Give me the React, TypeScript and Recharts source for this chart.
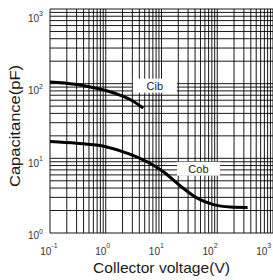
import React from 'react';
import { LineChart, Line, XAxis, YAxis, CartesianGrid, ReferenceDot, Label } from 'recharts';

// Collector-base / emitter-base capacitance vs collector voltage
const cibVoltage = [0.1, 0.28, 0.5, 1, 2, 3, 4.7];
const cibCapacitance = [105, 98, 91, 81, 68, 59, 47];

const cobVoltage = [0.1, 0.3, 1, 2.7, 4.1, 6.2, 10.8, 21.5, 43, 85, 170, 350];
const cobCapacitance = [16.8, 15.9, 14.3, 11.4, 10.0, 8.6, 6.6, 4.3, 2.95, 2.4, 2.23, 2.2];

const xDecades = [0.1, 1, 10, 100, 1000];
const xExponents = ['-1', '0', '1', '2', '3'];
const yDecades = [1, 10, 100, 1000];
const yExponents = ['0', '1', '2', '3'];
const gridMultipliers = [1, 2, 3, 4, 5, 6, 7, 8, 9];

const seriesNames = ['Cib', 'Cob'];
const cibLabelAt = { v: 7.6, c: 94 };
const cobLabelAt = { v: 46, c: 7.26 };

const xTitle = 'Collector voltage(V)';
const yTitle = 'Capacitance(pF)';

const cibData = cibVoltage.map((v, i) => ({ v, c: cibCapacitance[i] }));
const cobData = cobVoltage.map((v, i) => ({ v, c: cobCapacitance[i] }));

const buildTicks = (decades: number[]) => {
  const out: number[] = [];
  decades.forEach((d, i) => {
    if (i === decades.length - 1) {
      out.push(d);
    } else {
      gridMultipliers.forEach((m) => out.push(+(d * m).toPrecision(3)));
    }
  });
  return out;
};
const xGridTicks = buildTicks(xDecades);
const yGridTicks = buildTicks(yDecades);

const FONT = 'Arial, "Liberation Sans", Helvetica, sans-serif';
const PLOT_LEFT = 50;
const PLOT_TOP = 9;
const PLOT_BOTTOM = 233;

const XTick = (props: any) => {
  const { x, payload } = props;
  const i = xDecades.findIndex((d) => Math.abs(d - payload.value) < 1e-9);
  if (i < 0) return <g />;
  const dx = -1 - 0.037 * (x - PLOT_LEFT);
  return (
    <text x={x + dx} y={PLOT_BOTTOM + 21.5} textAnchor="middle" fontFamily={FONT} fontSize={10} fill="#333">
      <tspan>10</tspan>
      <tspan dy={-6.5} fontSize={7}>{xExponents[i]}</tspan>
    </text>
  );
};

const YTick = (props: any) => {
  const { y, payload } = props;
  const i = yDecades.findIndex((d) => Math.abs(d - payload.value) < 1e-9);
  if (i < 0) return <g />;
  const center = y + 9 - 0.028 * (y - PLOT_TOP);
  return (
    <text x={43} y={center + 3.6} textAnchor="end" fontFamily={FONT} fontSize={10} fill="#333">
      <tspan>10</tspan>
      <tspan dy={-5.5} fontSize={7}>{yExponents[i]}</tspan>
    </text>
  );
};

const makeTag = (text: string, w: number) => (props: any) => {
  const { cx, cy } = props;
  return (
    <g>
      <rect x={cx - w / 2} y={cy - 7} width={w} height={14} fill="#fff" />
      <text x={cx} y={cy + 4} textAnchor="middle" fontFamily={FONT} fontSize={11} fill="#222">
        {text}
      </text>
    </g>
  );
};

export default function App() {
  return (
    <div style={{ position: 'absolute', left: 0, top: 0, width: 273, height: 280, background: '#fff' }}>
      <LineChart width={273} height={280} margin={{ top: PLOT_TOP, right: 0, bottom: 0, left: 0 }}>
        <CartesianGrid stroke="#000" strokeWidth={1} strokeOpacity={0.9} />
        <XAxis
          dataKey="v"
          type="number"
          scale="log"
          domain={[0.1, 1000]}
          allowDataOverflow
          ticks={xGridTicks}
          interval={0}
          height={47}
          axisLine={false}
          tickLine={false}
          tick={XTick}
        >
          <Label
            content={() => (
              <text
                x={161.5}
                y={273}
                textAnchor="middle"
                fontFamily={FONT}
                fontSize={15}
                textLength={137}
                lengthAdjust="spacingAndGlyphs"
                fill="#1a1a1a"
              >
                {xTitle}
              </text>
            )}
          />
        </XAxis>
        <YAxis
          dataKey="c"
          type="number"
          scale="log"
          domain={[1, 1000]}
          allowDataOverflow
          ticks={yGridTicks}
          interval={0}
          width={50}
          axisLine={false}
          tickLine={false}
          tick={YTick}
        >
          <Label
            content={() => (
              <text
                x={20}
                y={126}
                transform="rotate(-90 20 126)"
                textAnchor="middle"
                fontFamily={FONT}
                fontSize={15}
                textLength={122}
                lengthAdjust="spacingAndGlyphs"
                fill="#1a1a1a"
              >
                {yTitle}
              </text>
            )}
          />
        </YAxis>
        <ReferenceDot x={cibLabelAt.v} y={cibLabelAt.c} shape={makeTag(seriesNames[0], 44)} />
        <ReferenceDot x={cobLabelAt.v} y={cobLabelAt.c} shape={makeTag(seriesNames[1], 43)} />
        <Line
          data={cibData}
          dataKey="c"
          type="monotone"
          stroke="#000"
          strokeWidth={3}
          dot={false}
          isAnimationActive={false}
        />
        <Line
          data={cobData}
          dataKey="c"
          type="monotone"
          stroke="#000"
          strokeWidth={3}
          dot={false}
          isAnimationActive={false}
        />
      </LineChart>
    </div>
  );
}
